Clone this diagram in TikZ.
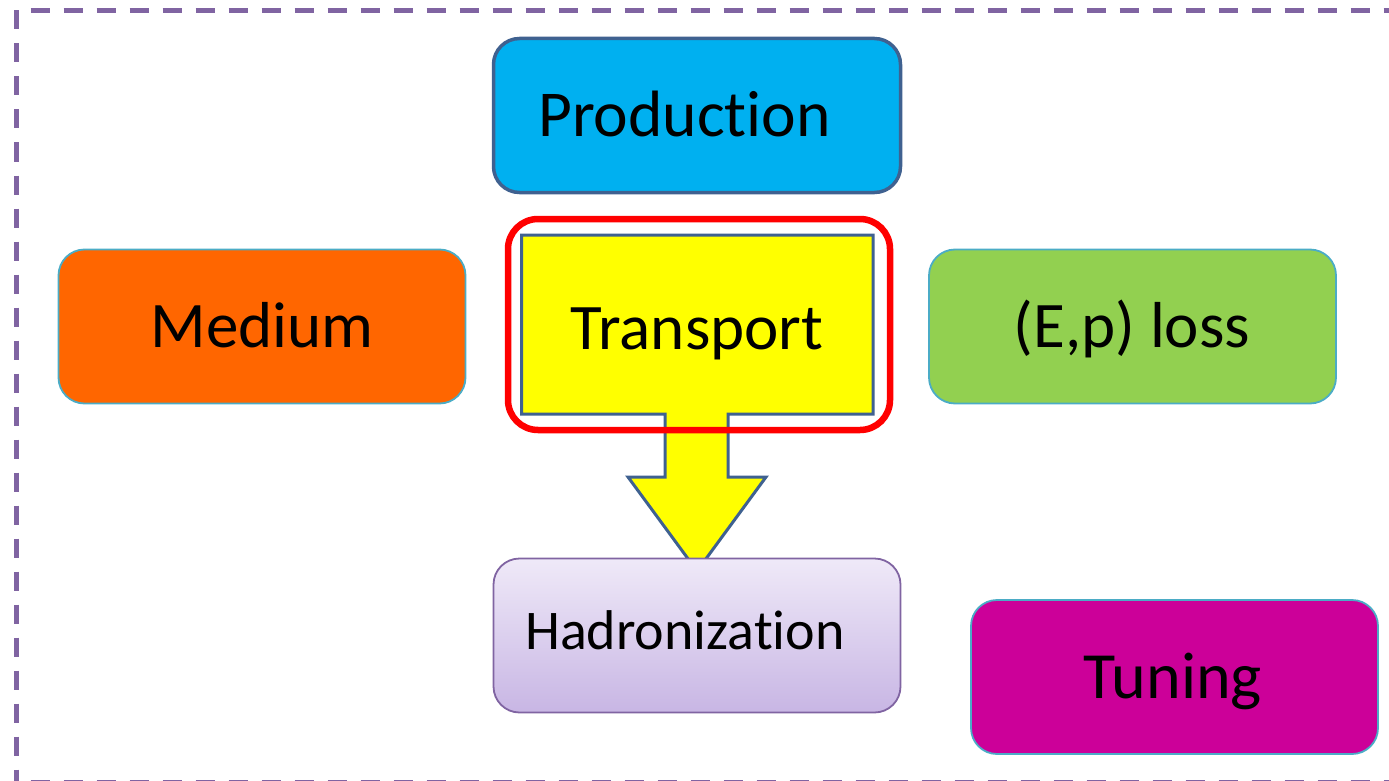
\documentclass[tikz,border=0pt]{standalone}
\usepackage{fontspec}
\setmainfont{Carlito}[Ligatures={NoCommon,NoContextual}]
\definecolor{frameviolet}{HTML}{8064A2}
\definecolor{slateedge}{HTML}{3F6190}
\definecolor{tealedge}{HTML}{4BACC6}
\definecolor{prodblue}{HTML}{00B0F0}
\definecolor{medorange}{HTML}{FF6600}
\definecolor{lossgreen}{HTML}{92D050}
\definecolor{tunemagenta}{HTML}{CC0099}
\definecolor{hadtop}{HTML}{EFE9F8}
\definecolor{hadbottom}{HTML}{C8B6E4}
\definecolor{hadedge}{HTML}{8064A2}
\definecolor{transyellow}{HTML}{FFFF00}
\tikzset{
  stagebox/.style={rectangle, rounded corners=26, minimum width=407, minimum height=154, inner sep=0pt},
  sidebox/.style={stagebox, draw=tealedge, line width=1.8},
  lbl/.style={anchor=base, inner sep=0pt},
  framedash/.style={draw=frameviolet, line width=5, dash pattern=on 19 off 14},
}
\begin{document}
\begin{tikzpicture}[x=1pt, y=-1pt]
  \useasboundingbox (0,0) rectangle (1389,781);
  \clip (0,0) rectangle (1389,781);

  % dashed surrounding frame
  \draw[framedash] (16.5,10.5) -- (16.5,790);
  \draw[framedash, dash phase=19] (16.5,10.5) -- (1400,10.5);
  \draw[framedash, dash phase=19] (16.5,782) -- (1400,782);

  % stage boxes
  \node[stagebox, draw=slateedge, line width=3.5, fill=prodblue] (prod) at (697,115.5) {};
  \node[sidebox, fill=medorange] (medium) at (262,326.5) {};
  \node[sidebox, fill=lossgreen] (loss) at (1132.5,326.5) {};
  \node[sidebox, fill=tunemagenta] (tuning) at (1174.5,677) {};

  % transport block with its downward arrow
  \coordinate (tr-nw) at (521.5,235);
  \coordinate (tr-se) at (873,414);
  \coordinate (tip) at (697,571);
  \draw[slateedge, line width=3, fill=transyellow, line join=miter]
    (tr-nw) -- (tr-nw -| tr-se) -- (tr-se) -- (728,414) -- (728,477) -- (766,477)
    -- (tip) -- (628,477) -- (665,477) -- (665,414) -- (tr-nw |- tr-se) -- cycle;
  \node[draw=red, line width=6.5, rounded corners=30, minimum width=382, minimum height=211, inner sep=0pt]
    (focus) at (699,324.5) {};

  % hadronization box drawn over the arrow tip
  \node[stagebox, draw=hadedge, line width=1.8, top color=hadtop, bottom color=hadbottom]
    (hadron) at (697,635.5) {};

  % labels
  \node[lbl, font=\fontsize{65.5}{76}\selectfont] (prodtext) at (684.5,137) {Production};
  \node[lbl, font=\fontsize{65}{76}\selectfont] (medtext) at (262,347) {Medium};
  \node[lbl, font=\fontsize{65}{76}\selectfont] (losstext) at (1132,347) {(E,p) loss};
  \node[lbl, font=\fontsize{65}{76}\selectfont] (transtext) at (697,349) {Transport};
  \node[lbl, font=\fontsize{56}{66}\selectfont] (hadtext) at (685,649) {Hadronization};
  \node[lbl, font=\fontsize{66}{76}\selectfont] (tunetext) at (1173,698) {Tuning};
\end{tikzpicture}
\end{document}
